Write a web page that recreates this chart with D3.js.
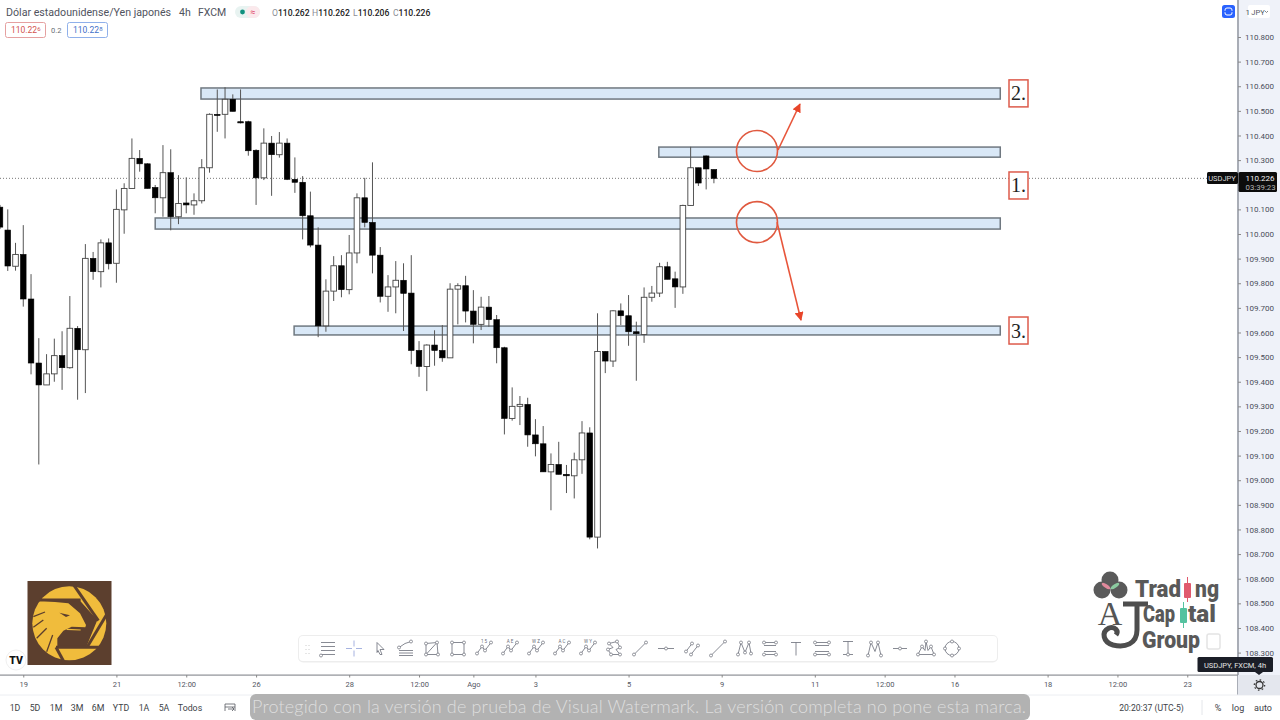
<!DOCTYPE html>
<html><head><meta charset="utf-8">
<script src="https://cdnjs.cloudflare.com/ajax/libs/d3/7.8.5/d3.min.js"></script>
<style>
html,body{margin:0;padding:0;background:#fff;overflow:hidden}
svg{display:block}
text{font-family:Roboto,"Noto Sans",sans-serif}
</style></head><body><svg id="c" width="1280" height="720" viewBox="0 0 1280 720"></svg>
<script>
const opens=[110.109,110.016,109.869,109.917,109.736,109.476,109.387,109.432,109.506,109.457,109.617,109.530,109.901,109.847,109.964,109.881,110.098,110.185,110.307,110.285,110.189,110.147,110.249,110.070,110.126,110.118,110.135,110.269,110.486,110.486,110.547,110.456,110.456,110.340,110.228,110.369,110.322,110.369,110.222,110.210,110.074,109.955,109.627,109.768,109.871,109.774,109.923,110.147,110.047,109.914,109.747,109.785,109.812,109.760,109.527,109.462,109.549,109.527,109.497,109.776,109.790,109.687,109.633,109.703,109.652,109.538,109.251,109.300,109.308,109.184,109.148,109.034,109.064,109.024,109.018,109.083,109.192,108.769,109.523,109.484,109.688,109.668,109.603,109.592,109.743,109.760,109.867,109.818,109.785,110.116,110.269,110.317,110.262];
const highs=[110.118,110.100,109.964,110.036,109.837,109.577,109.512,109.575,109.605,109.748,109.626,109.959,109.927,109.978,109.982,110.181,110.206,110.388,110.341,110.287,110.199,110.361,110.344,110.239,110.230,110.165,110.304,110.490,110.587,110.596,110.567,110.587,110.460,110.344,110.429,110.398,110.414,110.388,110.311,110.235,110.172,110.027,109.816,109.910,109.914,109.996,110.165,110.228,110.291,109.947,109.833,109.890,109.881,109.914,109.565,109.552,109.609,109.630,109.800,109.800,109.830,109.772,109.745,109.748,109.671,109.542,109.377,109.342,109.335,109.248,109.220,109.109,109.156,109.062,109.112,109.240,109.215,109.678,109.523,109.691,109.718,109.752,109.644,109.783,109.789,109.883,109.887,109.847,110.119,110.354,110.269,110.319,110.262];
const lows=[110.020,109.850,109.851,109.705,109.430,109.064,109.387,109.400,109.367,109.453,109.327,109.354,109.814,109.783,109.856,109.802,110.001,110.185,110.253,110.185,110.084,110.070,110.015,110.040,110.084,110.078,110.124,110.249,110.415,110.388,110.498,110.449,110.318,110.118,110.219,110.155,110.310,110.219,110.167,109.978,109.946,109.581,109.603,109.728,109.743,109.755,109.881,110.027,109.840,109.722,109.684,109.678,109.606,109.471,109.420,109.362,109.465,109.481,109.497,109.633,109.641,109.556,109.610,109.623,109.475,109.186,109.242,109.224,109.136,109.097,109.034,108.878,109.024,108.948,108.926,109.026,108.760,108.723,109.435,109.460,109.630,109.546,109.404,109.558,109.725,109.744,109.816,109.700,109.757,110.116,110.195,110.181,110.206];
const closes=[110.028,109.870,109.917,109.736,109.476,109.387,109.432,109.506,109.457,109.617,109.530,109.901,109.847,109.964,109.879,110.100,110.185,110.307,110.285,110.185,110.147,110.249,110.070,110.124,110.118,110.135,110.269,110.486,110.483,110.547,110.498,110.453,110.338,110.228,110.369,110.322,110.369,110.222,110.210,110.074,109.955,109.627,109.768,109.871,109.774,109.923,110.147,110.047,109.914,109.747,109.785,109.812,109.759,109.527,109.462,109.549,109.527,109.497,109.776,109.790,109.687,109.633,109.703,109.652,109.538,109.251,109.300,109.308,109.184,109.148,109.034,109.064,109.024,109.018,109.083,109.192,108.769,109.523,109.484,109.688,109.668,109.603,109.595,109.743,109.760,109.867,109.816,109.785,110.116,110.269,110.207,110.264,110.226];
const priceTicks=[110.8,110.7,110.6,110.5,110.4,110.3,110.2,110.1,110.0,109.9,109.8,109.7,109.6,109.5,109.4,109.3,109.2,109.1,109.0,108.9,108.8,108.7,108.6,108.5,108.4,108.3];
const timeTickBars=[3,15,24,33,45,54,61,69,81,93,105,114,123,135,144,153];
const timeTickLabels=["19","21","12:00","26","28","12:00","Ago","3","5","9","11","12:00","16","18","12:00","23"];
const zoneStart=[25.9,84.9,20,37.9];
const zoneEnd=[128.9,128.9,128.9,128.9];
const zoneTop=[110.593,110.353,110.065,109.626];
const zoneBottom=[110.548,110.312,110.020,109.590];
const zoneLabels=["2.","1.",null,"3."];
const tagPrices=[110.571,110.197,null,109.608];
const circleBars=[97.55,97.55];
const circlePrices=[110.337,110.048];
const arrowFrom=[[100.26,110.341],[100.13,110.048]];
const arrowTo=[[103.09,110.528],[103.22,109.650]];
const rangeButtons=["1D","5D","1M","3M","6M","YTD","1A","5A","Todos"];
const rangeX=[15,35,56,77,98,121,144,164,190];
const lastPrice=110.226;

const svg=d3.select("#c");
const x=d3.scaleLinear().domain([0,100]).range([0,776]);
const y=d3.scaleLinear().domain([108.3,110.8]).range([652.6,37]);
const W=1238,AX=675,BOT=695;

svg.append("rect").attr("width",1280).attr("height",720).attr("fill","#fff");
svg.append("rect").attr("x",W).attr("y",0).attr("width",42).attr("height",BOT).attr("fill","#eff2f9");
svg.append("rect").attr("x",W-1).attr("y",0).attr("width",2).attr("height",AX+20).attr("fill","#a9adb6");

svg.append("line").attr("x1",0).attr("x2",1207).attr("y1",y(lastPrice)).attr("y2",y(lastPrice))
 .attr("stroke","#777").attr("stroke-width",1).attr("stroke-dasharray","1 2");

const zg=svg.append("g");
zoneTop.forEach((t,i)=>{
 zg.append("rect").attr("x",x(zoneStart[i])).attr("y",y(t)).attr("width",x(zoneEnd[i])-x(zoneStart[i])).attr("height",y(zoneBottom[i])-y(t))
  .attr("fill","#d9e8f7").attr("stroke","#6f7880").attr("stroke-width",1.5);
});

const cg=svg.append("g");
opens.forEach((o,i)=>{
 const c=closes[i],up=c>=o,cx=x(i),top=y(Math.max(o,c)),bot=y(Math.min(o,c));
 cg.append("line").attr("x1",cx).attr("x2",cx).attr("y1",y(highs[i])).attr("y2",y(lows[i])).attr("stroke","#555").attr("stroke-width",1);
 cg.append("rect").attr("x",cx-2.8).attr("y",top).attr("width",5.6).attr("height",Math.max(bot-top,1.2))
  .attr("fill",up?"#fff":"#000").attr("stroke",up?"#444":"#000").attr("stroke-width",up?.9:.6);
});

svg.append("defs").append("marker").attr("id","ah").attr("viewBox","0 0 10 10").attr("refX",9).attr("refY",5)
 .attr("markerWidth",9).attr("markerHeight",9).attr("markerUnits","userSpaceOnUse").attr("orient","auto")
 .append("path").attr("d","M0,0L10,5L0,10Z").attr("fill","#e8452a");
circleBars.forEach((b,i)=>{
 svg.append("circle").attr("cx",x(b)).attr("cy",y(circlePrices[i])).attr("r",20.5).attr("fill","none").attr("stroke","#e0593f").attr("stroke-width",1.6);
});
arrowFrom.forEach((f,i)=>{
 svg.append("line").attr("x1",x(f[0])).attr("y1",y(f[1])).attr("x2",x(arrowTo[i][0])).attr("y2",y(arrowTo[i][1]))
  .attr("stroke","#e8553a").attr("stroke-width",1.6).attr("marker-end","url(#ah)");
});

zoneLabels.forEach((l,i)=>{
 if(!l)return;
 const cy=y(tagPrices[i]);
 svg.append("rect").attr("x",1009).attr("y",cy-13.5).attr("width",19).attr("height",27).attr("fill","#fff").attr("stroke","#dd5b4b").attr("stroke-width",1.5);
 svg.append("text").attr("x",1018.5).attr("y",cy+7).attr("text-anchor","middle").style("font-family","'Liberation Serif',serif").style("font-size","20px").attr("fill","#222").text(l);
});

const pa=svg.append("g").attr("transform",`translate(${W},0)`).call(d3.axisRight(y).tickValues(priceTicks).tickFormat(d3.format(".3f")).tickSize(3).tickPadding(4));
pa.select(".domain").remove();
pa.selectAll("line").attr("stroke","#888");
pa.selectAll("text").attr("fill","#4a4e59").style("font-size","8px");

svg.append("rect").attr("x",1248).attr("y",5).attr("width",22).attr("height",13).attr("rx",2).attr("fill","#fff");
svg.append("text").attr("x",1258).attr("y",14.5).attr("text-anchor","middle").attr("fill","#50535e").style("font-size","7.5px").text("JPY");
svg.append("path").attr("d","M1265,11l1.5,1.5l1.5,-1.5").attr("fill","none").attr("stroke","#555").attr("stroke-width",.7);
svg.append("text").attr("x",1245.5).attr("y",14.5).attr("fill","#4a4e59").style("font-size","8px").text("1");
svg.append("rect").attr("x",1222).attr("y",5).attr("width",13).attr("height",13).attr("rx",2.5).attr("fill","#2962ff");
svg.append("rect").attr("x",1225).attr("y",8).attr("width",7).attr("height",7).attr("rx",2).attr("fill","none").attr("stroke","#fff").attr("stroke-width",1);
svg.append("line").attr("x1",1224).attr("x2",1233).attr("y1",11.5).attr("y2",11.5).attr("stroke","#2962ff").attr("stroke-width",1.5);

svg.append("rect").attr("x",1207).attr("y",172).attr("width",31).attr("height",12).attr("rx",1.5).attr("fill","#0c0c0c");
svg.append("text").attr("x",1222).attr("y",181).attr("text-anchor","middle").attr("fill","#dcdcdc").style("font-size","7.5px").text("USDJPY");
svg.append("rect").attr("x",1238.5).attr("y",172).attr("width",38.5).attr("height",20).attr("rx",1.5).attr("fill","#0c0c0c");
svg.append("text").attr("x",1245.5).attr("y",181).attr("fill","#f2f2f2").style("font-size","8px").text("110.226");
svg.append("text").attr("x",1245.5).attr("y",190).attr("fill","#b5b5b5").style("font-size","7.8px").text("03:39:23");

svg.append("rect").attr("x",0).attr("y",AX-.5).attr("width",W).attr("height",1.2).attr("fill","#8d9096");
const labelOf=new Map(timeTickBars.map((b,i)=>[b,timeTickLabels[i]]));
const ta=svg.append("g").attr("transform",`translate(0,${AX})`).call(d3.axisBottom(x).tickValues(timeTickBars).tickFormat(b=>labelOf.get(b)).tickSize(2.5).tickPadding(4));
ta.select(".domain").remove();
ta.selectAll("line").attr("stroke","#888");
ta.selectAll("text").attr("fill","#53565f").style("font-size","7.5px");

const h=svg.append("g");
h.append("text").attr("x",6).attr("y",15.5).attr("fill","#50535e").style("font-size","10.65px").text("Dólar estadounidense/Yen japonés");
h.append("text").attr("x",179).attr("y",15.5).attr("fill","#50535e").style("font-size","10.5px").text("4h");
h.append("text").attr("x",198).attr("y",15.5).attr("fill","#50535e").style("font-size","10.5px").text("FXCM");
h.append("rect").attr("x",235).attr("y",6).attr("width",25).attr("height",12).attr("rx",6).attr("fill","#e8f3f1");
h.append("rect").attr("x",246).attr("y",6).attr("width",14).attr("height",12).attr("rx",6).attr("fill","#fbe9ec");
h.append("circle").attr("cx",242.5).attr("cy",12).attr("r",2.4).attr("fill","#10917f");
h.append("text").attr("x",253).attr("y",15).attr("text-anchor","middle").attr("fill","#e0476a").style("font-size","9px").text("≈");
[["O","110.262",272],["H","110.262",312],["L","110.206",353],["C","110.226",393]].forEach(d=>{
 const t=h.append("text").attr("x",d[2]).attr("y",15.5).style("font-size","8.6px").attr("fill","#222");
 t.append("tspan").attr("fill","#8a8d95").text(d[0]);
 t.append("tspan").attr("font-weight",500).text(d[1]);
});
h.append("rect").attr("x",5.5).attr("y",22.5).attr("width",40).attr("height",15).attr("rx",2).attr("fill","#fff").attr("stroke","#e5a0a0");
h.append("text").attr("x",11).attr("y",33).attr("fill","#d2524f").style("font-size","8.5px").text("110.22").append("tspan").attr("dy",-2).style("font-size","6px").text("6");
h.append("text").attr("x",51).attr("y",33).attr("fill","#6a6d75").style("font-size","7.5px").text("0.2");
h.append("rect").attr("x",67.5).attr("y",22.5).attr("width",40).attr("height",15).attr("rx",2).attr("fill","#fff").attr("stroke","#8fb0ea");
h.append("text").attr("x",73).attr("y",33).attr("fill","#3f6fc8").style("font-size","8.5px").text("110.22").append("tspan").attr("dy",-2).style("font-size","6px").text("8");

// eagle logo
const e=svg.append("g");
const brown="#5c3f2e";
e.append("rect").attr("x",27.5).attr("y",581).attr("width",84).attr("height",84).attr("fill",brown);
e.append("circle").attr("cx",69.3).attr("cy",623.3).attr("r",37).attr("fill","#f0bc3c");
const ez=(pts)=>pts.map(p=>[p[0]/3,570+p[1]/3]);
const eLine=d3.line();
e.append("path").attr("fill",brown).attr("d",eLine(ez([[125,92],[240,92],[292,150],[260,228],[172,228],[172,205],[190,182],[215,170],[256,172],[258,165],[240,130],[205,100]]))+"Z");
[[[118,90],[242,90]],[[222,46],[295,152]],[[325,125],[262,230]],[[168,232],[296,232]],[[168,232],[192,276]]].forEach(s=>{
 e.append("path").attr("stroke",brown).attr("stroke-width",3).attr("fill","none").attr("d",eLine(ez(s)));
});
e.append("path").attr("fill",brown).attr("d",eLine(ez([[178,128],[210,136],[198,141]]))+"Z");
e.append("path").attr("stroke",brown).attr("stroke-width",1.3).attr("fill","none").attr("d",eLine(ez([[100,140],[135,126]]))+eLine(ez([[100,172],[130,150]]))+eLine(ez([[110,205],[140,175]]))+eLine(ez([[140,245],[158,195]])));
e.append("path").attr("stroke","#f0bc3c").attr("stroke-width",1.1).attr("fill","none").attr("d",eLine(ez([[200,178],[242,180]])));
svg.append("circle").attr("cx",16).attr("cy",660).attr("r",10).attr("fill","#fff").attr("stroke","#f0f0f0");
svg.append("text").attr("x",16).attr("y",664).attr("text-anchor","middle").attr("fill","#111").attr("font-weight",900).style("font-size","10.5px").text("TV");

// Trading Capital Group logo
const t=svg.append("g");
[[1102,590],[1110,580],[1119,590]].forEach(p=>t.append("circle").attr("cx",p[0]).attr("cy",p[1]).attr("r",8.5).attr("fill","#5a5a5a"));
t.append("ellipse").attr("cx",1106).attr("cy",586).attr("rx",5).attr("ry",1.8).attr("transform","rotate(35 1106 586)").attr("fill","#e08a9c");
t.append("ellipse").attr("cx",1115).attr("cy",586).attr("rx",5).attr("ry",1.8).attr("transform","rotate(-35 1115 586)").attr("fill","#8ccba0");
t.append("text").attr("x",1110).attr("y",625).attr("text-anchor","middle").style("font-family","'Liberation Serif',serif").style("font-size","34px").attr("fill","#555").text("A");
t.append("path").attr("d","M1123,604H1148M1137,604V630C1137,644 1125,648 1113,645C1103,642 1101,632 1109,628C1115,626 1119,631 1116,635").attr("fill","none").attr("stroke","#4d4d4d").attr("stroke-width",5);
const tl=(s,xx,yy,len)=>t.append("text").attr("x",xx).attr("y",yy).attr("fill","#595959").attr("font-weight",900).attr("textLength",len).attr("lengthAdjust","spacingAndGlyphs").style("font-size","24px").style("font-family","Roboto,sans-serif").text(s);
tl("Trad",1135,597,46);tl("ng",1195,597,24);
tl("Cap",1143,622,32);tl("tal",1188,622,28);
tl("Group",1142,648,58);
t.append("rect").attr("x",1184).attr("y",583).attr("width",7).attr("height",15).attr("rx",1).attr("fill","#e05a6e");
t.append("line").attr("x1",1187.5).attr("x2",1187.5).attr("y1",577).attr("y2",602).attr("stroke","#e05a6e");
t.append("rect").attr("x",1180).attr("y",608).attr("width",7).attr("height",15).attr("rx",1).attr("fill","#55c2a0");
t.append("line").attr("x1",1183.5).attr("x2",1183.5).attr("y1",602).attr("y2",628).attr("stroke","#55c2a0");
t.append("rect").attr("x",1207).attr("y",634).attr("width",13).attr("height",15).attr("rx",2).attr("fill","none").attr("stroke","#e4e4e4").attr("stroke-width",1.5);

// toolbar
const tb=svg.append("g");
tb.append("rect").attr("x",298).attr("y",635).attr("width",700).attr("height",27.5).attr("rx",5).attr("fill","#000").attr("opacity",.07);
tb.append("rect").attr("x",299).attr("y",636).attr("width",698).attr("height",25).attr("rx",4).attr("fill","#fff");
const ic="#6a6d78";
const iconPaths=["M-7,-6H7M-7,-2H7M-7,2H7M-7,6H7","M-8,0H-2M2,0H8M0,-8V-2M0,2V8","M-3,-6L4,1L0,1L2,6L0,6L-2,2L-3,4Z","M-7,-1L-1,-5L5,-7M-7,2H7M-7,4.5H7M-7,7H7","M-6,-5L5,-6L6,6L-6,6ZM-6,6L5,-6","M-6,-6H6V6H-6Z","M-7,5L-2,-2L1,2L7,-6","M-7,5L-2,-2L1,2L7,-6","M-7,5L-2,-2L1,2L7,-6","M-7,5L-2,-2L1,2L7,-6","M-7,5L-2,-2L1,2L7,-6","M-5,-5L3,-7L6,-1L2,1L6,6L-3,6L-6,1L-1,-1Z","M-6,6L6,-6","M-8,0H8","M-6,3L0,-5M-1,6L6,-3","M-7,7L7,-7","M-6,6L-3,-6L1,4L5,-6L7,5","M-6,-6H6M-6,-3H6M-6,3H6M-6,6H6","M-5,-6H5M0,-6V7","M-7,-6H7M-7,-3H7M-7,3H7M-7,6H7","M-5,-7H5M0,-7V6M-5,6H5","M-6,7L-3,-6L1,3L4,-6L7,7","M-7,0H7","M-8,6L-4,-2L-1,2L0,-7L2,2L5,-2L8,6M-8,6H8","M-7,0A7,7 0 1,1 7,0A7,7 0 1,1 -7,0"];
const iconNodes=[[[-7,7]],[],[],[[-7,-1],[5,-7]],[[-6,-5],[5,-6],[6,6],[-6,6]],[[-6,-6],[6,-6],[6,6],[-6,6]],[[-7,5],[-2,-2],[1,2],[7,-6]],[[-7,5],[-2,-2],[1,2],[7,-6]],[[-7,5],[-2,-2],[1,2],[7,-6]],[[-7,5],[-2,-2],[1,2],[7,-6]],[[-7,5],[-2,-2],[1,2],[7,-6]],[[-5,-5],[3,-7],[6,-1],[6,6],[-3,6],[-6,1]],[[-6,6],[6,-6]],[[0,0]],[[-6,3],[0,-5],[-1,6],[6,-3]],[[-7,7],[7,-7]],[[-6,6],[-3,-6],[1,4],[5,-6],[7,5]],[[-6,-6],[6,-6],[-6,6],[6,6]],[],[[-7,-6],[7,-6],[-7,6],[7,6]],[[0,6]],[[-6,7],[-3,-6],[4,-6],[7,7]],[[0,0]],[[-8,6],[-4,-2],[0,-7],[5,-2],[8,6]],[[0,-7],[-7,0],[7,0],[0,7]]];
const iconLabels=[null,null,null,null,null,null,"1 5","A E","W Z","A C","W Y"];
iconPaths.forEach((d,i)=>{
 const g=tb.append("g").attr("transform",`translate(${328+26*i},648.5)`);
 g.append("path").attr("d",d).attr("fill",i==2?"#fff":"none").attr("stroke",i==1?"#8fa0d8":ic).attr("stroke-width",.8);
 iconNodes[i].forEach(n=>g.append("circle").attr("cx",n[0]).attr("cy",n[1]).attr("r",1.5).attr("fill","#fff").attr("stroke",ic).attr("stroke-width",.7));
 if(iconLabels[i])g.append("text").attr("y",-6).attr("text-anchor","middle").attr("fill",ic).style("font-size","4.5px").text(iconLabels[i]);
});
tb.append("path").attr("d","M306,645v1M309,645v1M306,649v1M309,649v1M306,653v1M309,653v1").attr("stroke","#ccc");

// bottom bar
svg.append("rect").attr("x",0).attr("y",BOT).attr("width",1280).attr("height",25).attr("fill","#fff");
svg.append("line").attr("x1",0).attr("x2",1280).attr("y1",BOT).attr("y2",BOT).attr("stroke","#eceef2");
rangeButtons.forEach((b,i)=>svg.append("text").attr("x",rangeX[i]).attr("y",710.5).attr("text-anchor","middle").attr("fill","#3d3f47").style("font-size","8.8px").text(b));
svg.append("path").attr("d","M225,711V704H235V711M225,707H235M228,709H234M232,707l2,2l-2,2").attr("fill","none").attr("stroke","#55585f").attr("stroke-width",.8);
svg.append("text").attr("x",1151.5).attr("y",710.5).attr("text-anchor","middle").attr("fill","#3d3f47").style("font-size","8.6px").text("20:20:37 (UTC-5)");
[["%",1218],["log",1238],["auto",1263]].forEach(d=>svg.append("text").attr("x",d[1]).attr("y",710.5).attr("text-anchor","middle").attr("fill","#3d3f47").style("font-size","9px").text(d[0]));
svg.append("line").attr("x1",1202).attr("x2",1202).attr("y1",700).attr("y2",715).attr("stroke","#e4e6ea");

// tooltip and gear
svg.append("rect").attr("x",1197.5).attr("y",657).attr("width",75.5).attr("height",15).attr("rx",1.5).attr("fill","#1b1e27");
svg.append("path").attr("d","M1255,672l4,3l4,-3Z").attr("fill","#1b1e27");
svg.append("text").attr("x",1235).attr("y",667.5).attr("text-anchor","middle").attr("fill","#e4e4e4").style("font-size","7.5px").text("USDJPY, FXCM, 4h");
svg.append("rect").attr("x",1238).attr("y",AX).attr("width",42).attr("height",20).attr("fill","#e4e7ee");
svg.append("circle").attr("cx",1259.5).attr("cy",685).attr("r",3.5).attr("fill","none").attr("stroke","#333").attr("stroke-width",1.3);
svg.append("circle").attr("cx",1259.5).attr("cy",685).attr("r",5.2).attr("fill","none").attr("stroke","#333").attr("stroke-width",1.2).attr("stroke-dasharray","1.6 2.4");

// watermark
svg.append("rect").attr("x",250).attr("y",694).attr("width",780).attr("height",26).attr("rx",6).attr("fill","#b2b2b2");
svg.append("text").attr("x",252).attr("y",713).attr("fill","#dedede").attr("textLength",774).style("font-size","18px").style("font-family","Lato,Roboto,sans-serif").attr("font-weight",300)
 .text("Protegido con la versión de prueba de Visual Watermark. La versión completa no pone esta marca.");
</script></body></html>
